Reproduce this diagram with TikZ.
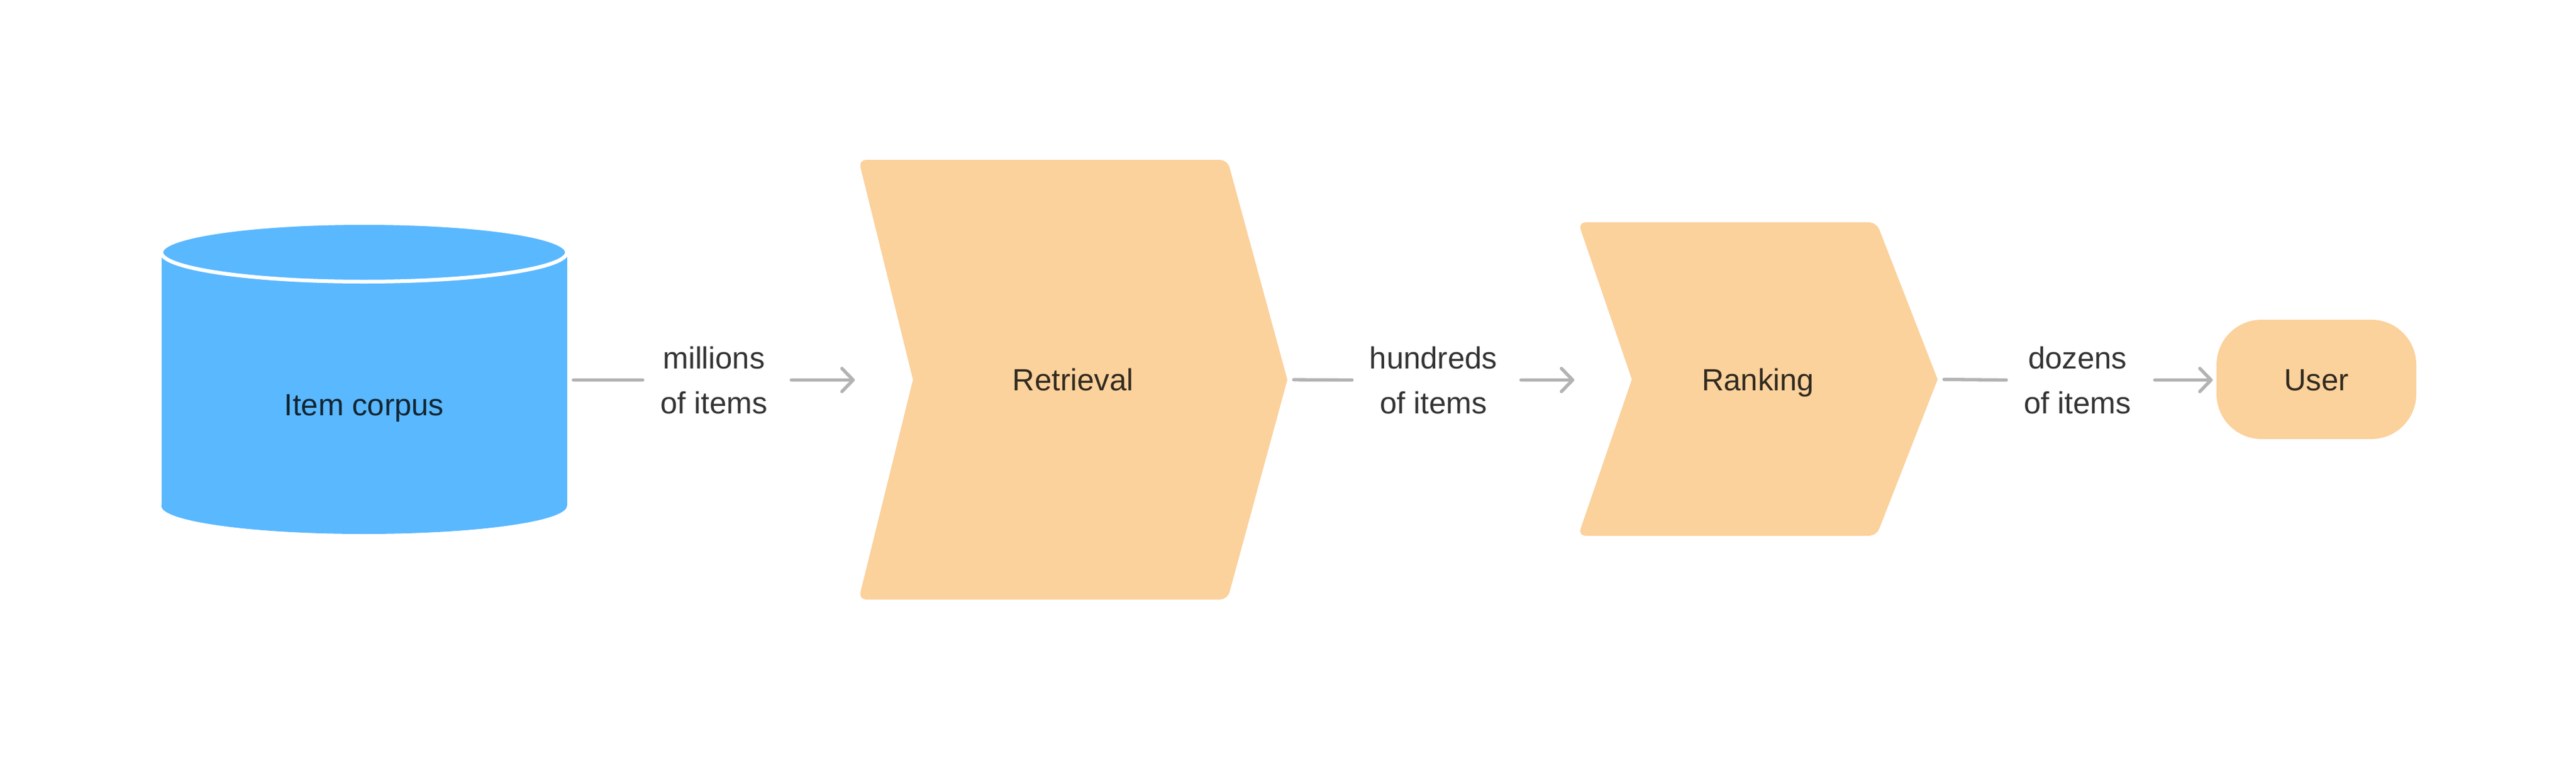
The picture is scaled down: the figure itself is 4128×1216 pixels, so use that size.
\documentclass[tikz,border=0pt]{standalone}
\usepackage{fontspec}
\setmainfont{Liberation Sans}
\usetikzlibrary{arrows.meta}
\definecolor{cblue}{HTML}{5AB8FF}
\definecolor{corange}{HTML}{FBD19C}
\definecolor{cgray}{HTML}{B3B3B3}
\definecolor{tblue}{HTML}{122533}
\definecolor{torange}{HTML}{322A1F}
\definecolor{tgray}{HTML}{333333}
\begin{document}
\begin{tikzpicture}[x=1pt,y=-1pt,
  txt/.style={font=\fontsize{49}{72}\selectfont, inner sep=0pt},
  boxtext/.style={txt, text height=35pt, text depth=0pt},
  lbl/.style={txt, text=tgray, align=center, inner xsep=28pt},
  chev/.style={fill=corange},
  conn/.style={draw=cgray, line width=5.3pt, line cap=round, shorten <=10pt},
  arr/.style={-{Straight Barb[length=18pt,width=37pt,round]}, shorten >=6pt},
]
\useasboundingbox (0,0) rectangle (4128,1216);
% cylinder (Item corpus)
\fill[cblue] (258.5,404) rectangle (908.5,810);
\fill[cblue] (583.5,810) ellipse [x radius=325, y radius=45];
\filldraw[fill=cblue, draw=white, line width=6pt] (583.5,404) ellipse [x radius=325, y radius=47];
\node[boxtext, text=tblue, minimum width=650pt, minimum height=415pt] (corpus) at (583.5,647.5) {Item corpus};
% Retrieval chevron
\path[chev] (2063,608) [rounded corners=12pt] -- (1967,960) -- (1376,960) [sharp corners] -- (1463,608) [rounded corners=12pt] -- (1376,256) -- (1967,256) -- (2063,608);
\node[boxtext, text=torange, minimum width=687pt, minimum height=704pt] (ret) at (1719.5,608) {Retrieval};
% Ranking chevron
\path[chev] (3105,607.5) [rounded corners=12pt] -- (3007,858) -- (2529,858) [sharp corners] -- (2615,607.5) [rounded corners=12pt] -- (2529,356) -- (3007,356) -- (3105,607.5);
\node[boxtext, text=torange, minimum width=576pt, minimum height=502pt] (rank) at (2817,607.5) {Ranking};
% User
\node[boxtext, text=torange, fill=corange, rounded corners=72pt, minimum width=320pt, minimum height=191pt] (user) at (3712,607.5) {User};
% labels
\node[lbl] (l1) at (1144,608.5) {millions\\of items};
\node[lbl] (l2) at (2297,608.5) {hundreds\\of items};
\node[lbl] (l3) at (3329,608.5) {dozens\\of items};
% connectors
\draw[conn] (corpus.east |- l1.west) -- (l1.west);
\draw[conn, arr] (l1.east) -- (ret.west |- l1.east);
\draw[conn] (ret.east) -- (l2.west);
\draw[conn, arr] (l2.east) -- (rank.west |- l2.east);
\draw[conn] (rank.east) -- (l3.west);
\draw[conn, arr] (l3.east) -- (user.west |- l3.east);
\end{tikzpicture}
\end{document}
